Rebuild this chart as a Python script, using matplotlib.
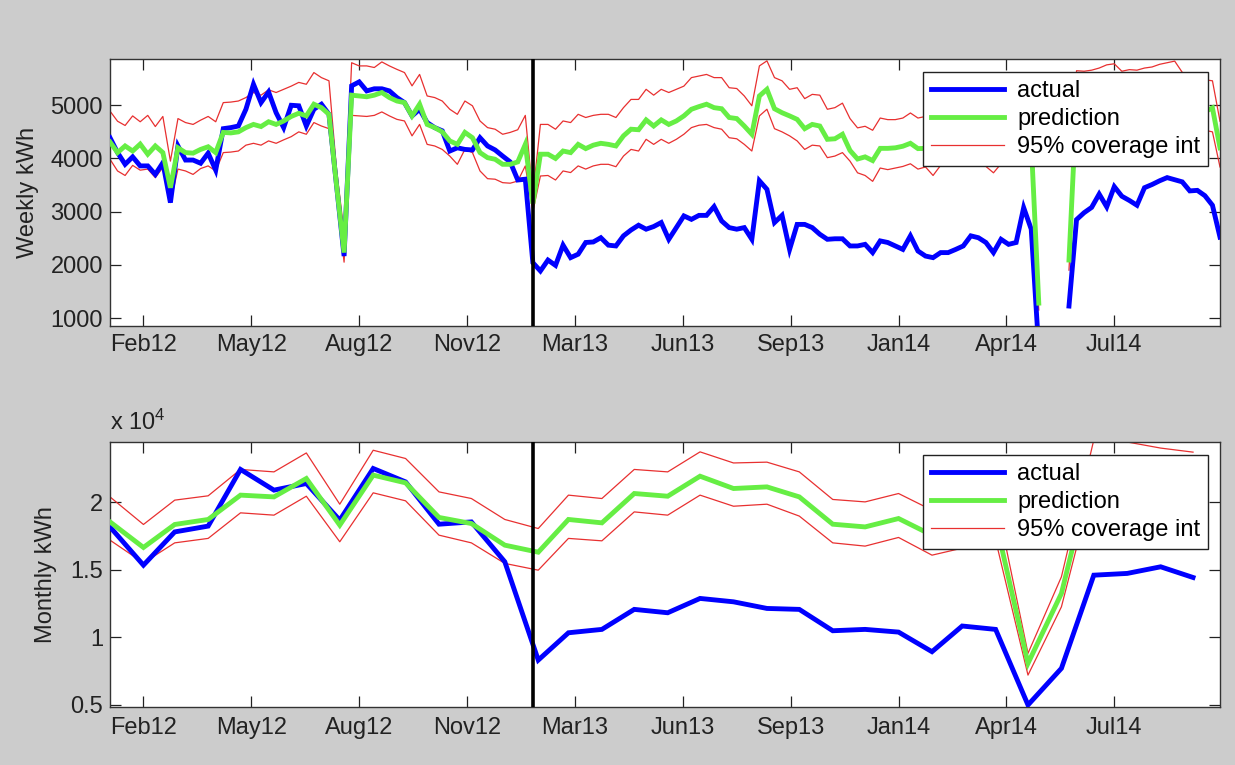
import numpy as np
import pandas as pd
import matplotlib
matplotlib.use("Agg")
import matplotlib.pyplot as plt
import matplotlib.dates as mdates
from matplotlib.ticker import FuncFormatter, FixedLocator

plt.rcParams['font.family'] = ['Liberation Sans', 'DejaVu Sans']
plt.rcParams['mathtext.fontset'] = 'custom'
plt.rcParams['mathtext.rm'] = 'Liberation Sans'
plt.rcParams['mathtext.it'] = 'Liberation Sans'

nan = np.nan

# ---- weekly series (kWh per week), weeks starting 2012-01-01 ----
week_start = '2012-01-01'
weekly_actual = [
    4390, 4110, 3890, 4030, 3860, 3860, 3700, 3920, 3170, 4235,
    3970, 3970, 3910, 4100, 3780, 4560, 4580, 4610, 4925, 5395,
    5050, 5250, 4860, 4580, 5000, 4990, 4610, 4925, 5020, 4830,
    3500, 2165, 5365, 5440, 5270, 5310, 5310, 5270, 5145, 5050,
    4800, 4925, 4675, 4580, 4520, 4140, 4200, 4170, 4160, 4390,
    4235, 4160, 4045, 3935, 3595, 3610, 2040, 1885, 2090, 1990,
    2370, 2135, 2200, 2420, 2430, 2510, 2370, 2355, 2545, 2655,
    2745, 2670, 2720, 2795, 2480, 2700, 2920, 2855, 2930, 2930,
    3095, 2825, 2700, 2670, 2700, 2480, 3580, 3420, 2795, 2930,
    2290, 2760, 2760, 2700, 2575, 2480, 2490, 2490, 2355, 2355,
    2385, 2230, 2450, 2420, 2355, 2290, 2545, 2260, 2165, 2135,
    2230, 2230, 2290, 2355, 2545, 2510, 2420, 2230, 2480, 2385,
    2420, 3075, 2670, 400, nan, nan, nan, 1225, 2850, 2980,
    3080, 3330, 3090, 3470, 3290, 3210, 3120, 3450, 3510, 3580,
    3640, 3600, 3560, 3390, 3400, 3300, 3120, 2520,
]
weekly_pred = [
    4310, 4110, 4235, 4140, 4270, 4080, 4235, 4110, 3450, 4200,
    4110, 4100, 4170, 4220, 4110, 4490, 4480, 4500, 4580, 4640,
    4600, 4690, 4640, 4705, 4790, 4850, 4800, 5020, 4955, 4830,
    3500, 2230, 5190, 5175, 5160, 5190, 5240, 5145, 5080, 5050,
    4800, 5020, 4640, 4580, 4500, 4330, 4265, 4490, 4390, 4110,
    4015, 3985, 3890, 3890, 3935, 4265, 3150, 4080, 4080, 4000,
    4140, 4110, 4265, 4185, 4250, 4285, 4265, 4235, 4425, 4550,
    4540, 4725, 4610, 4725, 4640, 4705, 4800, 4925, 4975, 5020,
    4955, 4935, 4770, 4750, 4610, 4455, 5175, 5300, 4935, 4860,
    4800, 4735, 4560, 4640, 4610, 4360, 4370, 4455, 4150, 3990,
    4030, 3960, 4190, 4190, 4200, 4230, 4285, 4185, 4190, 4030,
    4220, 4230, 4250, 4270, 4220, 4230, 4200, 4080, 4250, 4270,
    4300, 4330, 4310, 1280, nan, nan, nan, 2090, 5050, 5040,
    5060, 5100, 5160, 5180, 5040, 5070, 5060, 5100, 5120, 5170,
    5200, 5230, 5020, 4900, 4850, 4880, 4950, 4200,
]
weekly_upper = [
    4890, 4700, 4620, 4800, 4690, 4810, 4600, 4790, 3950, 4750,
    4675, 4640, 4720, 4790, 4690, 5050, 5060, 5080, 5145, 5240,
    5190, 5290, 5240, 5300, 5360, 5430, 5395, 5615, 5520, 5460,
    3800, 2600, 5800, 5740, 5740, 5710, 5815, 5740, 5675, 5615,
    5365, 5580, 5175, 5145, 5080, 4925, 4830, 5080, 4990, 4705,
    4580, 4550, 4455, 4490, 4540, 4810, 3300, 4640, 4640, 4550,
    4705, 4675, 4830, 4770, 4810, 4830, 4830, 4770, 4955, 5110,
    5110, 5300, 5190, 5300, 5240, 5300, 5360, 5520, 5550, 5580,
    5520, 5520, 5330, 5315, 5175, 4990, 5740, 5835, 5520, 5460,
    5300, 5330, 5125, 5205, 5190, 4925, 4955, 5040, 4750, 4575,
    4605, 4530, 4760, 4730, 4730, 4760, 4855, 4760, 4790, 4630,
    4820, 4830, 4850, 4870, 4820, 4830, 4800, 4680, 4850, 4870,
    4900, 4930, 4910, 1450, nan, nan, nan, 2300, 5650, 5640,
    5660, 5700, 5760, 5780, 5640, 5670, 5660, 5700, 5720, 5770,
    5800, 5830, 5620, 5500, 5450, 5480, 5460, 4700,
]
weekly_lower = [
    3985, 3765, 3680, 3870, 3780, 3800, 3640, 3830, 3170, 3800,
    3765, 3700, 3810, 3860, 3765, 4110, 4120, 4140, 4250, 4285,
    4250, 4330, 4285, 4350, 4410, 4500, 4455, 4675, 4610, 4560,
    3300, 2050, 4810, 4800, 4790, 4810, 4875, 4800, 4735, 4705,
    4425, 4640, 4265, 4235, 4170, 4045, 3890, 4170, 4110, 3765,
    3620, 3610, 3545, 3535, 3575, 3860, 3000, 3670, 3680, 3595,
    3765, 3735, 3860, 3800, 3860, 3890, 3890, 3845, 4045, 4170,
    4140, 4360, 4265, 4360, 4285, 4360, 4455, 4580, 4625, 4640,
    4580, 4550, 4390, 4370, 4265, 4140, 4800, 4925, 4560, 4500,
    4425, 4330, 4170, 4250, 4235, 4015, 4045, 4110, 3950, 3730,
    3680, 3570, 3820, 3790, 3820, 3850, 3900, 3800, 3840, 3680,
    3870, 3880, 3900, 3920, 3870, 3880, 3850, 3730, 3900, 3920,
    3950, 3980, 3960, 1150, nan, nan, nan, 1900, 4700, 4690,
    4710, 4750, 4810, 4830, 4690, 4720, 4710, 4750, 4770, 4820,
    4850, 4880, 4670, 4550, 4500, 4530, 4500, 3840,
]

# ---- monthly series (kWh per month), months starting 2012-01 ----
month_start = '2012-01-01'
monthly_actual = [
    18170, 15340, 17800, 18230, 22420, 20890, 21380, 18670, 22490, 21500, 18370, 18540,
    15590, 8320, 10340, 10590, 12070, 11820, 12880, 12630, 12140, 12070, 10490, 10590,
    10390, 8940, 10840, 10590, 5000, 7710, 14600, 14730, 15220, 14430,
]
monthly_pred = [
    18540, 16650, 18350, 18720, 20520, 20390, 21750, 18300, 22000, 21430, 18870, 18420,
    16820, 16300, 18720, 18470, 20640, 20440, 21920, 21010, 21130, 20390, 18370, 18170,
    18790, 17560, 18000, 18600, 8080, 13250, 23000, 22900, 22400, 22100,
]
monthly_upper = [
    20390, 18350, 20150, 20470, 22420, 22240, 23640, 19850, 23840, 23230, 20760, 20270,
    18720, 18050, 20520, 20270, 22420, 22240, 23720, 22900, 22960, 22240, 20200, 20020,
    20640, 19410, 19800, 20400, 8820, 14480, 24600, 24450, 24000, 23700,
]
monthly_lower = [
    17190, 15510, 16990, 17320, 19210, 19040, 20440, 17070, 20690, 20100, 17560, 16990,
    15470, 14970, 17320, 17140, 19280, 19040, 20520, 19700, 19850, 18970, 16990, 16750,
    17390, 16080, 16600, 17200, 7210, 12260, 21600, 21500, 21000, 20700,
]

series_labels = ['actual', 'prediction', '95% coverage int']
x_tick_start = '2012-02-01'
split_date = '2013-01-27'

weeks = pd.date_range(week_start, periods=len(weekly_actual), freq='7D')
months = pd.date_range(month_start, periods=len(monthly_actual), freq='MS')
xticks = pd.date_range(x_tick_start, periods=10, freq='100D')

BLUE = '#0000ff'
GREEN = '#66ee44'
RED = '#e83030'
FS = 17
TXT = '#222222'

fig = plt.figure(figsize=(12.35, 7.65), dpi=100, facecolor='#cccccc')
ax1 = fig.add_axes([110 / 1235, 1 - 326 / 765, 1110 / 1235, 267 / 765])
ax2 = fig.add_axes([110 / 1235, 1 - 707 / 765, 1110 / 1235, 265 / 765])


def style_axis(ax, xpad):
    ax.set_facecolor('white')
    ax.set_xlim(weeks[0], weeks[-1])
    ax.xaxis.set_major_locator(FixedLocator(mdates.date2num(xticks)))
    ax.xaxis.set_major_formatter(mdates.DateFormatter('%b%y'))
    ax.tick_params(axis='both', which='both', direction='in', length=8, width=0.9,
                   top=True, right=True, labelsize=FS, colors=TXT, labelcolor=TXT)
    ax.tick_params(axis='x', pad=xpad)
    ax.tick_params(axis='y', pad=5)
    for sp in ax.spines.values():
        sp.set_color('#333333')
        sp.set_linewidth(1.0)


def draw_panel(ax, x, act, pred, up, lo):
    ax.plot(x, up, color=RED, lw=0.9, zorder=2)
    ax.plot(x, lo, color=RED, lw=0.9, zorder=2)
    ax.plot(x, act, color=BLUE, lw=3.5, zorder=3, solid_joinstyle='miter')
    ax.plot(x, pred, color=GREEN, lw=3.5, zorder=4, solid_joinstyle='miter')
    ax.axvline(pd.Timestamp(split_date), color='black', lw=2.6, zorder=5)
    handles = [
        plt.Line2D([], [], color=BLUE, lw=3.5),
        plt.Line2D([], [], color=GREEN, lw=3.5),
        plt.Line2D([], [], color=RED, lw=0.9),
    ]
    h_ax = ax.get_position().height * 765
    leg = ax.legend(handles, series_labels, loc='upper right',
                    bbox_to_anchor=(1 - 12 / 1110, 1 - 13 / h_ax), borderaxespad=0,
                    fontsize=FS, frameon=True, fancybox=False, framealpha=1,
                    edgecolor=TXT, handlelength=3.1, handletextpad=0.55,
                    labelspacing=0.26, borderpad=0.33)
    leg.get_frame().set_linewidth(1.0)
    leg.set_zorder(10)


style_axis(ax1, xpad=6)
draw_panel(ax1, weeks, weekly_actual, weekly_pred, weekly_upper, weekly_lower)
ax1.set_ylim(850, 5870)
ax1.set_yticks([1000, 2000, 3000, 4000, 5000])
ax1.set_ylabel('Weekly kWh', fontsize=FS, color=TXT)
ax1.yaxis.set_label_coords(-71 / 1110, 0.5)

style_axis(ax2, xpad=7)
draw_panel(ax2, months, monthly_actual, monthly_pred, monthly_upper, monthly_lower)
ax2.set_ylim(4850, 24450)
ax2.set_yticks([5000, 10000, 15000, 20000])
ax2.yaxis.set_major_formatter(FuncFormatter(lambda v, p: f'{v / 1e4:g}'))
ax2.set_ylabel('Monthly kWh', fontsize=FS, color=TXT)
ax2.yaxis.set_label_coords(-53 / 1110, 0.5)
ax2.text(0.0, 1.025, r'x 10$^{4}$', transform=ax2.transAxes, fontsize=FS,
         color=TXT, ha='left', va='bottom')

fig.savefig('out.png', dpi=100, facecolor=fig.get_facecolor())
